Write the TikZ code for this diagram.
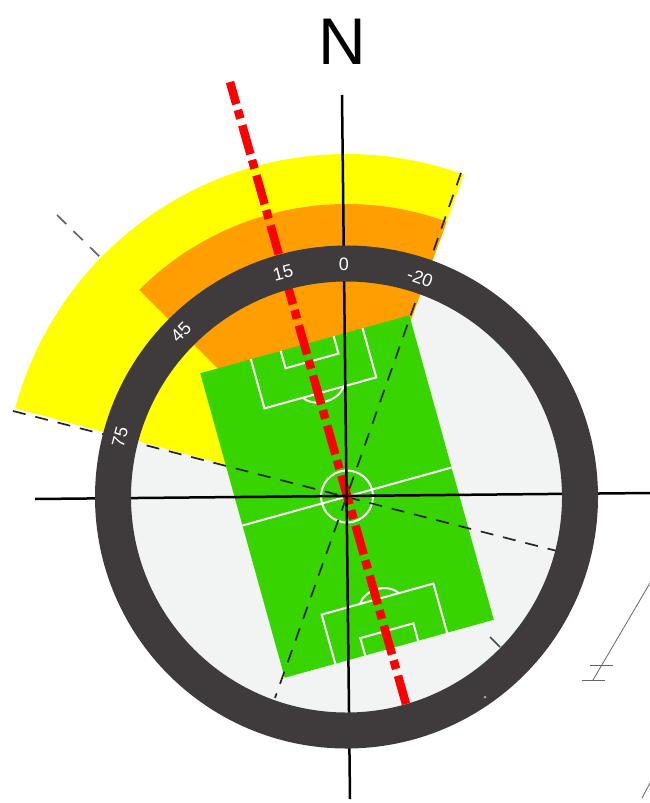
\documentclass[tikz,border=0pt]{standalone}
\usepackage{fontspec}
\setmainfont{Liberation Sans}
\definecolor{ringgray}{HTML}{3F3A3C}
\definecolor{diskgray}{HTML}{F2F4F4}
\definecolor{sectoryellow}{HTML}{FFFF00}
\definecolor{sectororange}{HTML}{FF9E00}
\definecolor{pitchgreen}{HTML}{38D400}
\definecolor{orientred}{HTML}{FF0000}
\begin{document}
\begin{tikzpicture}[
    x=1pt,y=-1pt,
    ringlabel/.style={text=white,font=\fontsize{18}{18}\selectfont,inner sep=0pt},
    sightline/.style={black!85,line width=1.7pt,dash pattern=on 13pt off 10pt},
    axisline/.style={black,line width=2.5pt},
    pitchline/.style={white,line width=2pt,line join=miter},
    sketchline/.style={black!60,line width=0.8pt}
  ]
  \useasboundingbox (0,0) rectangle (650,803);
  \coordinate (pole) at (346.5,497);

  % disk and sun sectors
  \fill[diskgray] (pole) circle[radius=233pt];
  \fill[sectoryellow] (pole) -- ++(70:343pt) arc[start angle=70,end angle=165,radius=343pt] -- cycle;
  \fill[sectororange] (pole) -- ++(70:293pt) arc[start angle=70,end angle=135,radius=293pt] -- cycle;

  % pitch
  \begin{scope}[shift={(347,496.5)},rotate=15.5]
    \fill[pitchgreen] (-108.5,-158) rectangle (108.5,158);
    \draw[pitchline] (-108.5,0) -- (108.5,0);
    \draw[pitchline] (0,0) circle[radius=26pt];
    \draw[pitchline] (-56,-158) -- (-56,-107) -- (60,-107) -- (60,-158);
    \draw[pitchline] (-25,-158) -- (-25,-140) -- (30,-140) -- (30,-158);
    \draw[pitchline] (-16,-107) .. controls (-8,-94) and (18,-94) .. (26,-107);
    \draw[pitchline] (-56,158) -- (-56,107) -- (60,107) -- (60,158);
    \draw[pitchline] (-25,158) -- (-25,140) -- (30,140) -- (30,158);
    \draw[pitchline] (-16,107) .. controls (-8,94) and (16,94) .. (24,107);
  \end{scope}

  % sight lines
  \draw[sightline] (461,173) -- (pole) -- (275,698);
  \draw[sightline] (13,411) -- (pole) -- (557,551);
  \draw[sightline,black!60] (57,215) -- (100,257);
  \draw[sightline,black!70,dash pattern=on 14pt off 0pt] (490,637) -- (500,647);

  % orientation line and axes
  \draw[orientred,line width=8.5pt,dash pattern=on 30pt off 6pt on 9pt off 7pt,dash phase=7pt] (230,82) -- (406,704);
  \draw[axisline] (342,95) -- (350,799);
  \draw[axisline] (35,499) -- (650,493);

  % ring
  \draw[ringgray,line width=36pt] (pole) circle[radius=233.5pt];
  \node[ringlabel] (mark0) at (344,264) {0};
  \node[ringlabel,rotate=15] (mark15) at (283,273) {15};
  \node[ringlabel,rotate=-20] (markminus20) at (420,278) {-20};
  \node[ringlabel,rotate=45] (mark45) at (181,332) {45};
  \node[ringlabel,rotate=75] (mark75) at (120,437) {75};
  \fill[black!35] (485,697) circle[radius=1.5pt];

  \node[font=\fontsize{66}{66}\selectfont,inner sep=0pt] (north) at (342,42) {N};

  % remains of the sketch at the right
  \draw[sketchline] (650,583) -- (593,680);
  \draw[sketchline] (590,665) -- (613,665);
  \draw[sketchline] (582,680) -- (605,680);
  \draw[sketchline] (650,783) -- (642,798);
\end{tikzpicture}
\end{document}
